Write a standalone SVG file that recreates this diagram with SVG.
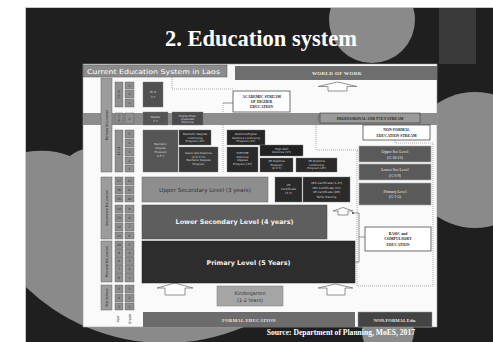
<svg xmlns="http://www.w3.org/2000/svg" width="493" height="342" viewBox="0 0 493 342">
<defs>
<clipPath id="slide"><rect x="26" y="8" width="467" height="334"/></clipPath>
<style>
.t{font-family:"DejaVu Sans","Liberation Sans",sans-serif;}
.s{font-family:"Liberation Serif","DejaVu Serif",serif;font-weight:bold;}
.cell{fill:#8f8f8f;stroke:#555;stroke-width:0.4;}
.bar{fill:#9c9c9c;stroke:#666;stroke-width:0.5;}
.ct{font-family:"DejaVu Sans",sans-serif;font-size:3px;fill:#222;text-anchor:middle;}
.vt{font-family:"DejaVu Sans",sans-serif;font-size:3.4px;fill:#222;text-anchor:middle;}
.dk{stroke:#777;stroke-width:0.4;}
.wt{font-family:"DejaVu Sans",sans-serif;font-size:2.9px;fill:#ddd;text-anchor:middle;}
.rb{fill:#5a5a5a;stroke:#aaa;stroke-width:0.6;}
.rt{font-family:"Liberation Serif",serif;font-size:4px;fill:#eee;text-anchor:middle;}
.wb{fill:#fff;stroke:#333;stroke-width:0.7;}
.bt{font-family:"Liberation Serif",serif;font-weight:bold;font-size:3.8px;fill:#222;text-anchor:middle;}
.dot{fill:none;stroke:#8a8a8a;stroke-width:0.7;stroke-dasharray:1 1;}
.ln{fill:none;stroke:#666;stroke-width:0.7;}
.arr{fill:#fff;stroke:#777;stroke-width:0.8;}
</style>
</defs>
<rect width="493" height="342" fill="#fff"/>
<g id="background" clip-path="url(#slide)">
<rect x="26" y="8" width="467" height="334" fill="#1f1f1f"/>
<circle cx="165" cy="142" r="201" fill="#8a8a8a"/>
<path d="M26,8 H437 V66 H84 V149 Q76,151 70,156 Q50,148 26,152 Z" fill="#1f1f1f"/>
<circle cx="372" cy="20" r="43" fill="#8a8a8a"/>
<rect x="439" y="8" width="37" height="56" fill="#3a3a3a"/>
<circle cx="475" cy="160" r="68" fill="#8a8a8a"/>
<circle cx="388" cy="332" r="26" fill="#8a8a8a"/>
</g>
<path d="M25.5,342 V7.5 H493" fill="none" stroke="#c8c8c8" stroke-width="1"/>
<text class="s" x="261" y="46" font-size="22.5" fill="#fff" text-anchor="middle">2. Education system</text>
<text class="s" x="415" y="335" font-size="7.6" fill="#fff" text-anchor="end">Source: Department of Planning, MoES, 2017</text>

<g id="panel">
<rect x="83" y="64" width="354" height="263" fill="#fafafa" stroke="#999" stroke-width="0.6"/>
<rect x="83" y="113" width="354" height="12" fill="#8c8c8c"/>
</g>
<g id="title-bar">
<rect x="83" y="65" width="144" height="12" fill="#8c8c8c" stroke="#555" stroke-width="0.5"/>
<text class="t" x="87" y="74" font-size="6.5" fill="#fff" textLength="133" lengthAdjust="spacingAndGlyphs">Current Education System in Laos</text>
</g>
<g id="world-of-work">
<rect x="235" y="66" width="202" height="14" fill="#6e6e6e"/>
<text class="s" x="337" y="75" font-size="5" fill="#eee" text-anchor="middle" letter-spacing="0.4">WORLD OF WORK</text>
</g>

<g id="connectors">
<path class="dot" d="M172,77 V89 H233"/>
<path class="ln" d="M223,103 H233"/>
<path class="dot" d="M223,103 V172"/>
<path class="dot" d="M316,123 V150 H358"/>
<path class="ln" d="M318,122 V116 H321"/>
<path class="dot" d="M395,140 V143 H433 V286 H357 V150"/>
<path class="ln" d="M353,213 H359 V262 H355 M359,237 H365"/>
<circle cx="353" cy="213" r="1" fill="#444"/>
<path class="arr" d="M337.5,82 L357,86.5 H347 V91 H328 V86.5 H318 Z"/>
<path class="arr" d="M343,207.5 L353,211 H348 V215 H338 V211 H333 Z"/>
<path class="arr" d="M335.5,284 L353,288 H345 V295 H327 V288 H318 Z"/>
<path class="arr" d="M175,283 L193,288 H185 V295 H165 V288 H157 Z"/>
</g>

<g id="side-labels">
<rect class="bar" x="101" y="78" width="11" height="94"/>
<text class="vt" transform="translate(107.6,125) rotate(-90)">Tertiary Education</text>
<rect class="bar" x="101" y="177" width="11" height="62"/>
<text class="vt" transform="translate(107.6,208) rotate(-90)">Secondary Education</text>
<rect class="bar" x="101" y="241" width="11" height="41"/>
<text class="vt" transform="translate(107.6,261.5) rotate(-90)">Primary Education</text>
<rect class="bar" x="101" y="285" width="11" height="25"/>
<text class="vt" transform="translate(107.6,297.5) rotate(-90)">Pre-School</text>
<text class="vt" transform="translate(118.5,319) rotate(-90)">Age</text>
<text class="vt" transform="translate(130.5,319) rotate(-90)">Grade</text>
</g>

<g id="age-column">
<rect class="cell" x="115" y="82" width="8" height="25"/><text class="ct" transform="translate(120,94.5) rotate(-90)">23-25</text>
<rect class="cell" x="115" y="113" width="8" height="11"/><text class="ct" transform="translate(120,118.5) rotate(-90)">21-22</text>
<rect class="cell" x="115" y="130" width="8" height="42"/><text class="ct" transform="translate(120,151) rotate(-90)">17-21</text>
<rect class="cell" x="115" y="177" width="8" height="8"/><text class="ct" x="119" y="182.2">17</text>
<rect class="cell" x="115" y="186" width="8" height="8"/><text class="ct" x="119" y="191.2">16</text>
<rect class="cell" x="115" y="195" width="8" height="7"/><text class="ct" x="119" y="199.7">15</text>
<rect class="cell" x="115" y="205" width="8" height="8"/><text class="ct" x="119" y="210.2">14</text>
<rect class="cell" x="115" y="214" width="8" height="8"/><text class="ct" x="119" y="219.2">13</text>
<rect class="cell" x="115" y="223" width="8" height="8"/><text class="ct" x="119" y="228.2">12</text>
<rect class="cell" x="115" y="232" width="8" height="7"/><text class="ct" x="119" y="236.7">11</text>
<rect class="cell" x="115" y="241" width="8" height="7.5"/><text class="ct" x="119" y="246">10</text>
<rect class="cell" x="115" y="249" width="8" height="7.5"/><text class="ct" x="119" y="254">9</text>
<rect class="cell" x="115" y="257" width="8" height="7.5"/><text class="ct" x="119" y="262">8</text>
<rect class="cell" x="115" y="265" width="8" height="7.5"/><text class="ct" x="119" y="270">7</text>
<rect class="cell" x="115" y="273" width="8" height="9"/><text class="ct" x="119" y="278.7">6</text>
<rect class="cell" x="115" y="285" width="8" height="8"/><text class="ct" x="119" y="290.2">5</text>
<rect class="cell" x="115" y="294" width="8" height="8"/><text class="ct" x="119" y="299.2">4</text>
<rect class="cell" x="115" y="303" width="8" height="7"/><text class="ct" x="119" y="307.7">3</text>
</g>

<g id="grade-column">
<rect class="cell" x="125" y="82" width="9" height="7"/><text class="ct" x="129.5" y="86.7">3</text>
<rect class="cell" x="125" y="90" width="9" height="8"/><text class="ct" x="129.5" y="95.2">2</text>
<rect class="cell" x="125" y="99" width="9" height="8"/><text class="ct" x="129.5" y="104.2">1</text>
<rect class="cell" x="125" y="113" width="9" height="11"/><text class="ct" x="129.5" y="119.7">2</text>
<rect class="cell" x="125" y="130" width="9" height="8"/><text class="ct" x="129.5" y="135.2">5</text>
<rect class="cell" x="125" y="139" width="9" height="8"/><text class="ct" x="129.5" y="144.2">4</text>
<rect class="cell" x="125" y="148" width="9" height="8"/><text class="ct" x="129.5" y="153.2">3</text>
<rect class="cell" x="125" y="157" width="9" height="7"/><text class="ct" x="129.5" y="161.7">2</text>
<rect class="cell" x="125" y="165" width="9" height="7"/><text class="ct" x="129.5" y="169.7">1</text>
<rect class="cell" x="125" y="177" width="9" height="8"/><text class="ct" x="129.5" y="182.2">12</text>
<rect class="cell" x="125" y="186" width="9" height="8"/><text class="ct" x="129.5" y="191.2">11</text>
<rect class="cell" x="125" y="195" width="9" height="7"/><text class="ct" x="129.5" y="199.7">10</text>
<rect class="cell" x="125" y="205" width="9" height="8"/><text class="ct" x="129.5" y="210.2">9</text>
<rect class="cell" x="125" y="214" width="9" height="8"/><text class="ct" x="129.5" y="219.2">8</text>
<rect class="cell" x="125" y="223" width="9" height="8"/><text class="ct" x="129.5" y="228.2">7</text>
<rect class="cell" x="125" y="232" width="9" height="7"/><text class="ct" x="129.5" y="236.7">6</text>
<rect class="cell" x="125" y="241" width="9" height="7.5"/><text class="ct" x="129.5" y="246">5</text>
<rect class="cell" x="125" y="249" width="9" height="7.5"/><text class="ct" x="129.5" y="254">4</text>
<rect class="cell" x="125" y="257" width="9" height="7.5"/><text class="ct" x="129.5" y="262">3</text>
<rect class="cell" x="125" y="265" width="9" height="7.5"/><text class="ct" x="129.5" y="270">2</text>
<rect class="cell" x="125" y="273" width="9" height="9"/><text class="ct" x="129.5" y="278.7">1</text>
<rect class="cell" x="125" y="285" width="9" height="8"/><text class="ct" x="129.5" y="290.2">3</text>
<rect class="cell" x="125" y="294" width="9" height="8"/><text class="ct" x="129.5" y="299.2">2</text>
<rect class="cell" x="125" y="303" width="9" height="7"/><text class="ct" x="129.5" y="307.7">1</text>
</g>

<g id="phd"><rect class="dk" x="143" y="82" width="20" height="25" fill="#505050"/><text class="wt"><tspan x="153" y="93">Ph.D</tspan><tspan x="153" y="97.5">3 Y</tspan></text></g>
<g id="master"><rect class="dk" x="143" y="112" width="25" height="13" fill="#555"/><text class="wt"><tspan x="155.5" y="117.5">Master</tspan><tspan x="155.5" y="121.5">2 Y</tspan></text></g>
<g id="postgrad"><rect class="dk" x="172" y="112" width="31" height="13" fill="#4a4a4a"/><text class="wt"><tspan x="187.5" y="116.5">Higher/Post-</tspan><tspan x="187.5" y="119.8">graduate</tspan><tspan x="187.5" y="123.1">Diploma</tspan></text></g>
<g id="bachelor"><rect class="dk" x="143" y="130" width="35" height="42" fill="#555"/><text class="wt"><tspan x="160.5" y="145">Bachelor</tspan><tspan x="160.5" y="149">Degree</tspan><tspan x="160.5" y="153">Program</tspan><tspan x="160.5" y="157">4-5 Y</tspan></text></g>
<g id="bachelor-cont"><rect class="dk" x="179" y="130" width="32" height="15" fill="#2e2e2e"/><text class="wt"><tspan x="195" y="135">Bachelor Degree</tspan><tspan x="195" y="138.5">continuing</tspan><tspan x="195" y="142">Program (2Y)</tspan></text></g>
<g id="associate"><rect class="dk" x="179" y="147" width="39" height="25" fill="#3a3a3a"/><text class="wt"><tspan x="198.5" y="154">Associate Diploma</tspan><tspan x="198.5" y="157.5">(2-3 Y) to</tspan><tspan x="198.5" y="161">Bachelor Degree</tspan><tspan x="198.5" y="164.5">Program</tspan></text></g>
<g id="diploma-cont"><rect class="dk" x="227" y="130" width="38" height="15" fill="#262626"/><text class="wt"><tspan x="246" y="135">Diploma/Higher</tspan><tspan x="246" y="138.5">Diploma continuing</tspan><tspan x="246" y="142">Program (2Y)</tspan></text></g>
<g id="tvet-diploma"><rect class="dk" x="227" y="147" width="31" height="25" fill="#2a2a2a"/><text class="wt"><tspan x="242.5" y="154">TVET/HE</tspan><tspan x="242.5" y="157.5">Diploma</tspan><tspan x="242.5" y="161">Degree</tspan><tspan x="242.5" y="164.5">Program (3Y)</tspan></text></g>
<g id="high-skill"><rect class="dk" x="260" y="145" width="43" height="11" fill="#222"/><text class="wt"><tspan x="281.5" y="149.7">High Skill</tspan><tspan x="281.5" y="153.3">Diploma (1Y)</tspan></text></g>
<g id="ve-diploma"><rect class="dk" x="260" y="158" width="33" height="14" fill="#2a2a2a"/><text class="wt"><tspan x="276.5" y="162">VE Diploma</tspan><tspan x="276.5" y="165.5">Program</tspan><tspan x="276.5" y="169">(2-3 Y)</tspan></text></g>
<g id="ve-cont"><rect class="dk" x="296" y="158" width="41" height="14" fill="#2a2a2a"/><text class="wt"><tspan x="316.5" y="162">VE Diploma</tspan><tspan x="316.5" y="165.5">continuing</tspan><tspan x="316.5" y="169">Program (2Y)</tspan></text></g>
<g id="ve-cert"><rect class="dk" x="275" y="177" width="27" height="25" fill="#2a2a2a"/><text class="wt"><tspan x="288.5" y="186">VE</tspan><tspan x="288.5" y="190">Certificate</tspan><tspan x="288.5" y="194">(3 Y)</tspan></text></g>
<g id="ve-certs"><rect class="dk" x="303" y="177" width="47" height="25" fill="#2a2a2a"/><text class="wt"><tspan x="326.5" y="184">VE2 Certificate (1-2Y)</tspan><tspan x="326.5" y="188.5">VE1 Certificate (1Y)</tspan><tspan x="326.5" y="193">VE Certificate (6M)</tspan><tspan x="326.5" y="197.5">Skills Training</tspan></text></g>

<g id="academic"><rect class="wb" x="233" y="91" width="57" height="21"/><text class="bt"><tspan x="261.5" y="98">ACADEMIC STREAM</tspan><tspan x="261.5" y="103">OF HIGHER</tspan><tspan x="261.5" y="108">EDUCATION</tspan></text></g>
<g id="professional"><rect x="320" y="113" width="100" height="10" fill="#9a9a9a" stroke="#333" stroke-width="0.6"/><text class="bt" x="370" y="119.6">PROFESSIONAL AND TVET STREAM</text></g>
<g id="nonformal-stream"><rect class="wb" x="363" y="125" width="67" height="15"/><text class="bt"><tspan x="396.5" y="131">NON-FORMAL</tspan><tspan x="396.5" y="136.5">EDUCATION STREAM</tspan></text></g>
<g id="nf-upper"><rect class="rb" x="359" y="146" width="72" height="16"/><text class="rt"><tspan x="395" y="153">Upper Sec Level</tspan><tspan x="395" y="158.5">(G 10-12)</tspan></text></g>
<g id="nf-lower"><rect class="rb" x="359" y="164" width="72" height="16"/><text class="rt"><tspan x="395" y="171">Lower Sec Level</tspan><tspan x="395" y="176.5">(G 6-9)</tspan></text></g>
<g id="nf-primary"><rect class="rb" x="359" y="183" width="72" height="22"/><text class="rt"><tspan x="395" y="192.5">Primary Level</tspan><tspan x="395" y="198">(G 1-5)</tspan></text></g>
<g id="basic"><rect class="wb" x="365" y="227" width="66" height="24"/><text class="bt"><tspan x="398" y="234.5">BASIC and</tspan><tspan x="398" y="240">COMPULSORY</tspan><tspan x="398" y="245.5">EDUCATION</tspan></text></g>

<g id="upper-secondary"><rect x="142" y="177" width="126" height="25" fill="#8e8e8e" stroke="#666" stroke-width="0.5"/><text class="t" x="205" y="192" font-size="5.6" fill="#333" text-anchor="middle">Upper Secondary Level (3 years)</text></g>
<g id="lower-secondary"><rect x="142" y="205" width="185" height="34" fill="#5e5e5e" stroke="#444" stroke-width="0.5"/><text class="t" x="234.5" y="224" font-size="6.4" fill="#f2f2f2" font-weight="bold" text-anchor="middle">Lower Secondary Level (4 years)</text></g>
<g id="primary"><rect x="142" y="241" width="213" height="42" fill="#2d2d2d" stroke="#222" stroke-width="0.5"/><text class="t" x="248.5" y="264.5" font-size="6.4" fill="#f2f2f2" font-weight="bold" text-anchor="middle">Primary Level (5 Years)</text></g>
<g id="kindergarten"><rect x="217" y="286" width="66" height="20" fill="#a5a5a5" stroke="#777" stroke-width="0.5"/><text class="t" font-size="4.8" fill="#333" text-anchor="middle"><tspan x="250" y="294.5">Kindergarten</tspan><tspan x="250" y="301.5">(1-2 Years)</tspan></text></g>
<g id="formal-bar"><rect x="143" y="312" width="212" height="15" fill="#6c6c6c"/><text class="s" x="249" y="321.5" font-size="4.6" fill="#e8e8e8" text-anchor="middle" letter-spacing="0.3">FORMAL EDUCATION</text></g>
<g id="nonformal-bar"><rect x="358" y="312" width="74" height="15" fill="#444" stroke="#999" stroke-width="0.5"/><text class="s" x="395" y="321.5" font-size="4.6" fill="#e8e8e8" text-anchor="middle">NON-FORMAL Edu.</text></g>
</svg>
